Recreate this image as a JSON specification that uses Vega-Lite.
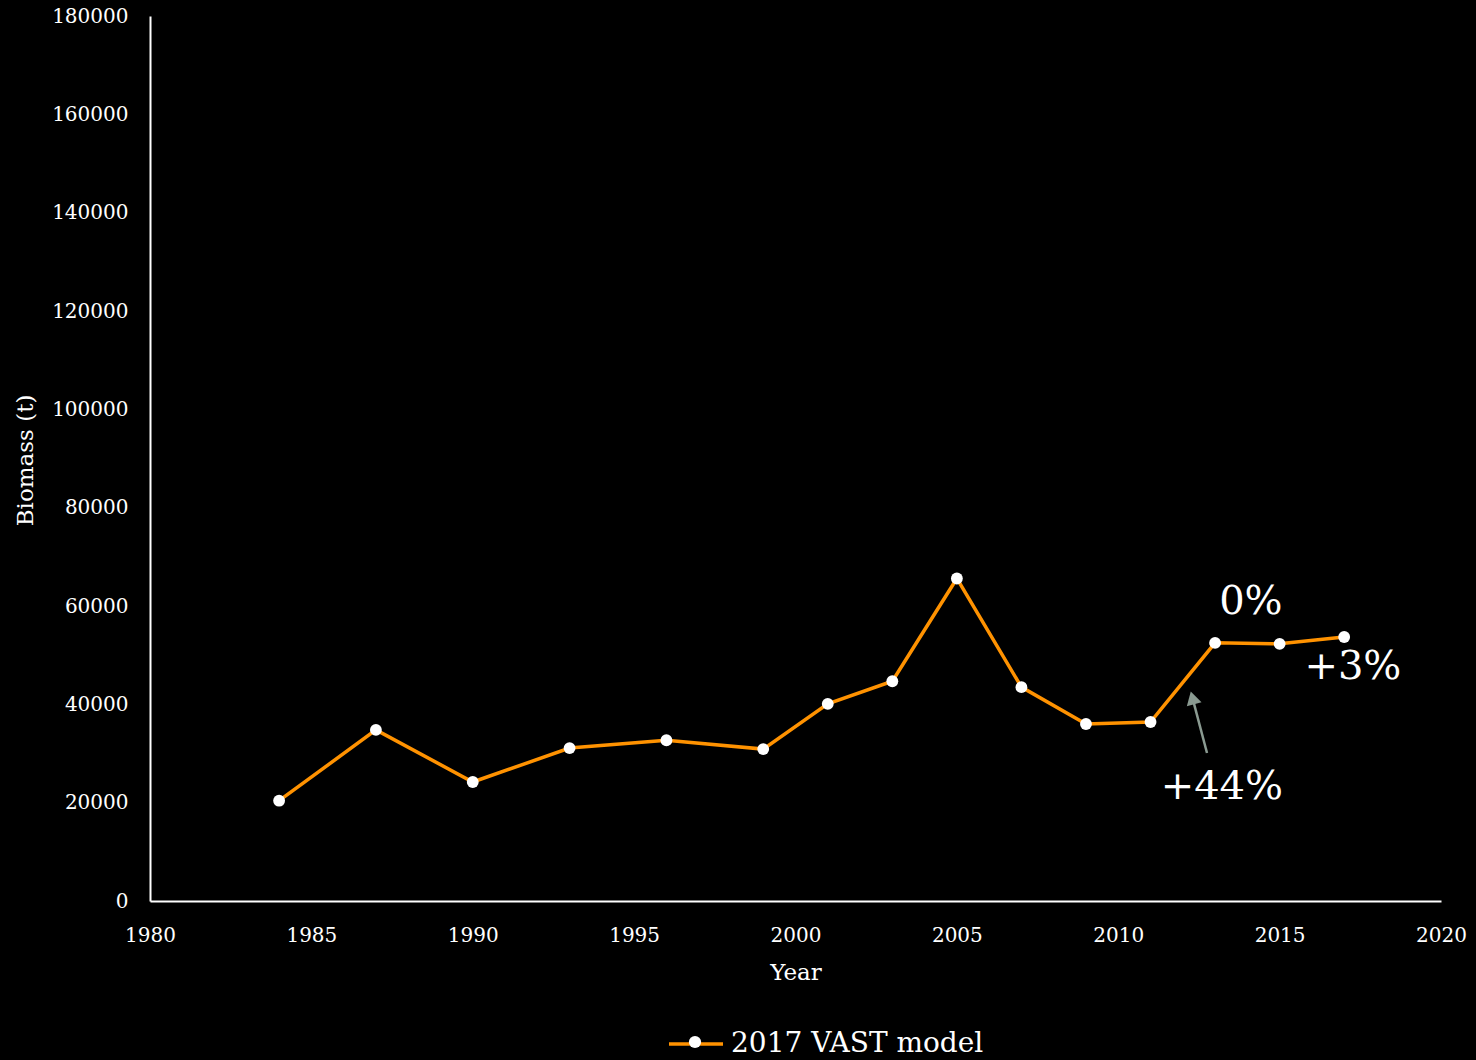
{
  "$schema": "https://vega.github.io/schema/vega-lite/v6.json",
  "width": 1291,
  "height": 885,
  "autosize": {"type": "none"},
  "padding": {"left": 150, "top": 16, "right": 35, "bottom": 159},
  "background": "#000000",
  "config": {
    "view": {"stroke": null},
    "font": "DejaVu Serif",
    "axis": {
      "domainColor": "#ffffff",
      "domainWidth": 2,
      "ticks": false,
      "grid": false,
      "labelFlush": false,
      "labelColor": "#ffffff",
      "labelFont": "DejaVu Serif",
      "labelFontSize": 20,
      "titleColor": "#ffffff",
      "titleFont": "DejaVu Serif",
      "titleFontSize": 23,
      "titleFontWeight": "normal"
    },
    "legend": {
      "labelColor": "#ffffff",
      "labelFont": "DejaVu Serif",
      "labelFontSize": 28,
      "labelLimit": 0,
      "padding": 0,
      "titlePadding": 0
    }
  },
  "datasets": {
    "biomass": [
      {"year": 1984, "biomass": 20400, "series": "2017 VAST model"},
      {"year": 1987, "biomass": 34800, "series": "2017 VAST model"},
      {"year": 1990, "biomass": 24200, "series": "2017 VAST model"},
      {"year": 1993, "biomass": 31100, "series": "2017 VAST model"},
      {"year": 1996, "biomass": 32700, "series": "2017 VAST model"},
      {"year": 1999, "biomass": 30900, "series": "2017 VAST model"},
      {"year": 2001, "biomass": 40100, "series": "2017 VAST model"},
      {"year": 2003, "biomass": 44700, "series": "2017 VAST model"},
      {"year": 2005, "biomass": 65600, "series": "2017 VAST model"},
      {"year": 2007, "biomass": 43500, "series": "2017 VAST model"},
      {"year": 2009, "biomass": 36000, "series": "2017 VAST model"},
      {"year": 2011, "biomass": 36400, "series": "2017 VAST model"},
      {"year": 2013, "biomass": 52500, "series": "2017 VAST model"},
      {"year": 2015, "biomass": 52300, "series": "2017 VAST model"},
      {"year": 2017, "biomass": 53700, "series": "2017 VAST model"}
    ],
    "notes": [
      {"year": 2014.11, "biomass": 60800, "label": "0%"},
      {"year": 2017.27, "biomass": 47600, "label": "+3%"},
      {"year": 2013.21, "biomass": 23200, "label": "+44%"}
    ],
    "arrow": [
      {"year": 2012.75, "biomass": 30100, "year2": 2012.32, "biomass2": 40800}
    ],
    "arrowhead": [
      {"year": 2012.3, "biomass": 41300}
    ]
  },
  "encoding": {
    "x": {
      "field": "year",
      "type": "quantitative",
      "scale": {"domain": [1980, 2020], "nice": false, "zero": false},
      "axis": {"values": [1980, 1985, 1990, 1995, 2000, 2005, 2010, 2015, 2020], "format": "d", "labelPadding": 24, "title": "Year", "titlePadding": 16}
    },
    "y": {
      "field": "biomass",
      "type": "quantitative",
      "scale": {"domain": [0, 180000], "nice": false},
      "axis": {"values": [0, 20000, 40000, 60000, 80000, 100000, 120000, 140000, 160000, 180000], "format": "d", "labelPadding": 22, "title": "Biomass (t)", "titleX": -125, "titleY": 444, "titleBaseline": "middle", "titleAngle": -90}
    }
  },
  "layer": [
    {
      "data": {"name": "biomass"},
      "mark": {"type": "line", "strokeWidth": 3.5},
      "encoding": {
        "color": {
          "field": "series",
          "type": "nominal",
          "scale": {"range": ["#FF9200"]},
          "legend": {"title": null, "orient": "none", "legendX": 517, "legendY": 999, "symbolType": "stroke", "symbolSize": 2916, "symbolStrokeWidth": 3.5, "labelOffset": 6}
        }
      }
    },
    {
      "data": {"name": "biomass"},
      "mark": {"type": "point", "filled": true, "color": "#ffffff", "opacity": 1, "size": 140},
      "encoding": {
        "shape": {
          "field": "series",
          "type": "nominal",
          "scale": {"range": ["circle"]},
          "legend": {"title": null, "orient": "none", "legendX": 531, "legendY": 1012, "symbolFillColor": "#ffffff", "symbolStrokeColor": "#ffffff", "symbolSize": 150, "symbolOpacity": 1, "labelExpr": "''", "labelOffset": 0}
        }
      }
    },
    {
      "data": {"name": "arrow"},
      "mark": {"type": "rule", "color": "#8A9A91", "strokeWidth": 2.5},
      "encoding": {
        "x2": {"field": "year2"},
        "y2": {"field": "biomass2"}
      }
    },
    {
      "data": {"name": "arrowhead"},
      "mark": {"type": "point", "shape": "triangle-up", "filled": true, "color": "#8A9A91", "opacity": 1, "size": 230, "angle": -15},
      "encoding": {}
    },
    {
      "data": {"name": "notes"},
      "mark": {"type": "text", "color": "#ffffff", "fontSize": 40, "font": "DejaVu Serif", "align": "center", "baseline": "middle"},
      "encoding": {"text": {"field": "label"}}
    }
  ]
}
